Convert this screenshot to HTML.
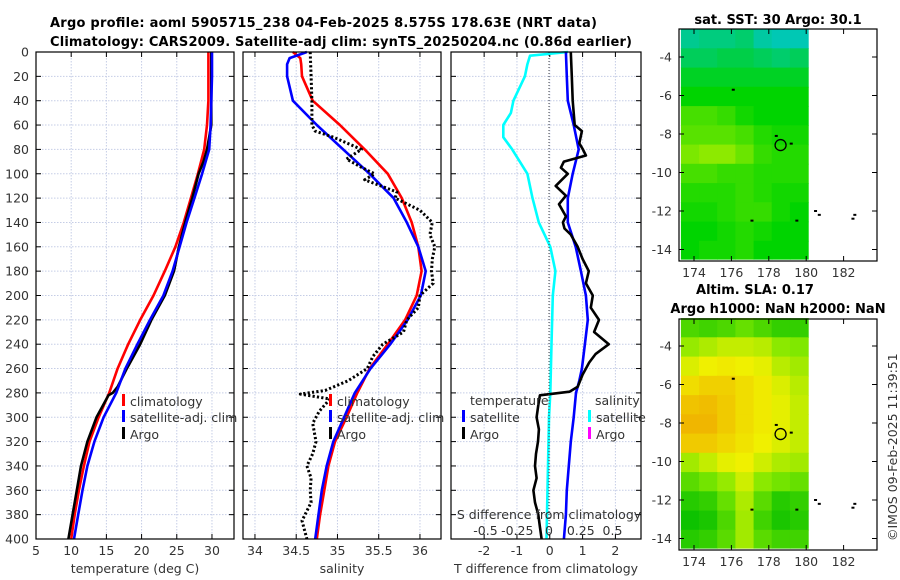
<!DOCTYPE html>
<html><head><meta charset="utf-8">
<style>
body{margin:0;background:#fff;}
svg{display:block;font-family:"DejaVu Sans","Liberation Sans",sans-serif;}
.tk{font-size:12.5px;fill:#333;}
.ttl{font-size:13px;font-weight:bold;fill:#000;}
</style></head>
<body>
<svg id="fig" width="900" height="580" viewBox="0 0 900 580" xmlns="http://www.w3.org/2000/svg">
<rect width="900" height="580" fill="#fff"/>
<text class="ttl" x="50" y="27" textLength="547">Argo profile: aoml 5905715_238 04-Feb-2025 8.575S 178.63E (NRT data)</text>
<text class="ttl" x="50" y="46" textLength="582">Climatology: CARS2009. Satellite-adj clim: synTS_20250204.nc (0.86d earlier)</text>
<g id="g"></g>
</svg>
<script>
// ---- data ----
const depthT = [0,20,40,60,80,100,120,140,160,180,200,220,240,260,280,300,320,340,360,380,400];
const tempClim = [29.5,29.5,29.5,29.3,28.9,28.0,27.0,26.0,24.8,23.3,21.7,19.8,18.1,16.6,15.4,13.9,12.6,11.8,11.1,10.5,10.0];
const tempSat  = [30.0,30.0,29.9,29.8,29.6,28.6,27.5,26.4,25.4,24.4,23.1,21.2,19.4,17.7,16.4,14.6,13.3,12.3,11.6,11.0,10.4];
const depthArgoT = [0,20,40,60,80,90,100,120,140,160,180,200,220,240,260,275,280,282,300,320,340,360,380,400];
const tempArgo = [29.9,29.9,29.9,29.9,29.3,28.8,28.1,27.2,26.2,25.3,24.6,23.3,21.4,19.8,17.9,16.6,15.9,15.3,13.6,12.3,11.4,10.8,10.2,9.6];
const depthS = [0,5,10,20,40,60,80,100,120,140,160,180,200,220,240,260,280,300,320,340,360,380,400];
const salClim = [34.46,34.55,34.56,34.57,34.70,35.03,35.33,35.61,35.78,35.90,35.98,36.02,35.96,35.82,35.61,35.39,35.24,35.11,34.97,34.89,34.84,34.79,34.75];
const salSat  = [34.63,34.42,34.39,34.39,34.46,34.75,35.07,35.39,35.68,35.84,35.98,36.07,36.01,35.85,35.64,35.40,35.21,35.08,34.95,34.87,34.81,34.77,34.73];
const depthArgoS = [0,20,40,60,65,70,80,88,95,100,105,115,120,130,140,150,160,170,180,190,200,210,220,230,240,250,260,270,278,281,285,295,305,320,330,340,350,360,370,385,400];
const salArgo = [34.67,34.68,34.69,34.69,34.73,34.95,35.29,35.11,35.3,35.45,35.33,35.72,35.70,36.0,36.15,36.12,36.18,36.15,36.14,36.16,36.0,35.98,35.84,35.80,35.55,35.43,35.36,35.13,34.85,34.55,34.91,34.78,34.70,34.74,34.70,34.63,34.68,34.67,34.68,34.57,34.63];
const depthDiff = [0,20,40,60,80,100,120,140,160,180,200,220,240,260,270,280,300,320,340,360,380,400];
const dTSat = [0.49,0.52,0.55,0.73,0.88,0.70,0.55,0.55,0.79,0.95,1.10,1.16,1.07,0.98,0.90,0.80,0.73,0.64,0.58,0.52,0.49,0.43];
const depthDS = [0,3,10,20,40,50,60,70,80,100,120,140,160,180,200,240,280,300,400];
const dSSat = [0.15,-0.15,-0.17,-0.19,-0.28,-0.30,-0.36,-0.36,-0.29,-0.17,-0.13,-0.08,0.01,0.05,0.03,0.02,0.01,0.0,-0.02];
const depthDTArgo = [0,20,40,60,65,75,80,85,90,95,100,110,118,125,135,140,145,150,160,170,180,190,200,210,220,230,240,248,255,265,275,279,282,290,300,310,320,330,340,350,360,370,380,390,400];
const dTArgo = [0.64,0.67,0.70,0.76,0.98,0.90,1.01,1.10,0.43,0.34,0.55,0.18,0.49,0.28,0.49,0.40,0.45,0.64,0.85,1.0,1.19,1.10,1.31,1.25,1.5,1.35,1.8,1.4,1.2,1.0,0.85,0.6,-0.3,-0.35,-0.4,-0.33,-0.36,-0.42,-0.45,-0.4,-0.5,-0.45,-0.35,-0.3,-0.25];
const depthTicks = [0,20,40,60,80,100,120,140,160,180,200,220,240,260,280,300,320,340,360,380,400];
const tTicks = [5,10,15,20,25,30];
const sTicks = [34,34.5,35,35.5,36];
const dtTicks = [-2,-1,0,1,2];
const dsTicks = [-0.5,-0.25,0,0.25,0.5];
const dsTickLabels = ["-0.5","-0.25","0","0.25","0.5"];
const lonTicks = [174,176,178,180,182];
const latTicks = [-4,-6,-8,-10,-12,-14];
const sstGrid = [
[0.2,0.3,0.3,0.4,0.1,0.0,0.0],
[0.5,0.5,0.6,0.6,0.5,0.4,0.5],
[0.8,0.8,0.8,0.8,0.8,0.8,0.8],
[1.0,1.0,1.0,1.0,1.0,1.0,1.0],
[1.4,1.4,1.3,1.1,1.0,1.0,1.0],
[1.5,1.5,1.5,1.4,1.2,1.1,1.1],
[1.7,1.8,1.8,1.6,1.3,1.2,1.2],
[1.4,1.4,1.3,1.3,1.2,1.2,1.2],
[1.2,1.2,1.2,1.3,1.2,1.1,1.1],
[1.1,1.1,1.2,1.3,1.3,1.1,1.0],
[1.0,1.0,1.1,1.2,1.1,1.0,1.0],
[1.0,1.1,1.1,1.2,1.0,1.0,1.0]];
const slaGrid = [
[0.6,0.5,0.6,0.8,0.6,0.4,0.4],
[1.2,1.4,1.6,1.6,1.5,1.1,1.0],
[1.8,2.0,2.1,2.0,1.9,1.5,1.3],
[2.3,2.5,2.5,2.3,2.1,1.8,1.5],
[2.7,2.8,2.6,2.3,2.1,1.9,1.6],
[2.9,2.9,2.6,2.3,2.1,1.9,1.6],
[2.6,2.6,2.4,2.2,2.0,1.8,1.6],
[1.3,1.6,1.9,2.0,1.7,1.4,1.3],
[0.7,0.9,1.2,1.7,1.1,0.9,0.8],
[0.3,0.4,0.8,1.4,0.7,0.3,0.4],
[0.1,0.2,0.6,1.3,0.5,0.2,0.3],
[0.3,0.4,0.7,1.3,0.7,0.5,0.5]];
const floatLon = 178.63, floatLat = -8.575;

// ---- drawing ----
const NS="http://www.w3.org/2000/svg";
const G=document.getElementById('g');
function mk(tag,attrs,parent){const e=document.createElementNS(NS,tag);for(const k in attrs)e.setAttribute(k,attrs[k]);(parent||G).appendChild(e);return e;}
const yD=d=>52+d*(539-52)/400;
function panel(name,x0,x1,vmin,vmax,ticks,labels,showDepth){
  const xs=v=>x0+(v-vmin)/(vmax-vmin)*(x1-x0);
  const g=mk('g',{});
  
  
  ticks.forEach(t=>{mk('line',{x1:xs(t),x2:xs(t),y1:52,y2:539,stroke:'#c5cde6','stroke-dasharray':'1.5,1.5','stroke-width':1},g);
    mk('line',{x1:xs(t),x2:xs(t),y1:539,y2:534,stroke:'#000'},g);mk('line',{x1:xs(t),x2:xs(t),y1:52,y2:57,stroke:'#000'},g);});
  depthTicks.forEach(d=>{mk('line',{x1:x0,x2:x1,y1:yD(d),y2:yD(d),stroke:'#c5cde6','stroke-dasharray':'1.5,1.5','stroke-width':1},g);
    mk('line',{x1:x0,x2:x0+5,y1:yD(d),y2:yD(d),stroke:'#000'},g);mk('line',{x1:x1-5,x2:x1,y1:yD(d),y2:yD(d),stroke:'#000'},g);
    if(showDepth){const t=mk('text',{x:29,y:yD(d)+4.5,'text-anchor':'end',class:'tk'},g);t.textContent=d;}});
  if(labels) ticks.forEach((t,i)=>{const e=mk('text',{x:xs(t),y:555,'text-anchor':'middle',class:'tk'},g);e.textContent=labels[i];});
  return {xs,g};
}
function line(p,xs,vals,depths,color,name,dash,w){
  const pts=vals.map((v,i)=>xs(v).toFixed(1)+','+yD(depths[i]).toFixed(1)).join(' ');
  const e=mk('polyline',{points:pts,fill:'none',stroke:color,'stroke-width':w||2.6,'stroke-linejoin':'round'},p.g);
  if(dash)e.setAttribute('stroke-dasharray',dash);
  
  
}
function frame(x0,x1){mk('rect',{x:x0,y:52,width:x1-x0,height:487,fill:'none',stroke:'#000','stroke-width':1.2});}
function txt(x,y,s,attrs,name){const e=mk('text',Object.assign({x,y},attrs||{}));e.textContent=s;
  
  return e;}
function legend(x,y,color,label,name){mk('rect',{x:x,y:y-7,width:3,height:12,fill:color});
  const t=mk('text',{x:x+8,y:y+5,class:'tk'});t.textContent=label;
  
  }

// Panel 1 temperature
const p1=panel('temperature-panel',36,234,5,33.13,tTicks,tTicks.map(String),true);
line(p1,p1.xs,tempClim,depthT,'#ff0000','temp-climatology-line');
line(p1,p1.xs,tempArgo,depthArgoT,'#000000','temp-argo-line');
line(p1,p1.xs,tempSat,depthT,'#0000ff','temp-satellite-line');
frame(36,234);
txt(135,573,'temperature (deg C)',{'text-anchor':'middle',class:'tk'},'temperature-x-label');
legend(122,401,'#ff0000','climatology','legend-climatology-t');
legend(122,417,'#0000ff','satellite-adj. clim','legend-satellite-t');
legend(122,434,'#000000','Argo','legend-argo-t');

// Panel 2 salinity
const p2=panel('salinity-panel',243,441,33.855,36.255,sTicks,sTicks.map(String),false);
line(p2,p2.xs,salClim,depthS,'#ff0000','sal-climatology-line');
line(p2,p2.xs,salSat,depthS,'#0000ff','sal-satellite-line');
line(p2,p2.xs,salArgo,depthArgoS,'#000000','sal-argo-line','2.2,2.2',3);
frame(243,441);
txt(342,573,'salinity',{'text-anchor':'middle',class:'tk'},'salinity-x-label');
legend(329,401,'#ff0000','climatology','legend-climatology-s');
legend(329,417,'#0000ff','satellite-adj. clim','legend-satellite-s');
legend(329,434,'#000000','Argo','legend-argo-s');

// Panel 3 differences
const p3=panel('difference-panel',451,641,-3.01,2.78,dtTicks,dtTicks.map(String),false);
const xsS=v=>549+v*127;
mk('line',{x1:549,x2:549,y1:52,y2:539,stroke:'#444','stroke-dasharray':'1,2','stroke-width':1});
line(p3,xsS,dSSat,depthDS,'#00ffff','ds-satellite-line');
line(p3,p3.xs,dTSat,depthDiff,'#0000ff','dt-satellite-line');
line(p3,p3.xs,dTArgo,depthDTArgo,'#000000','dt-argo-line');
frame(451,641);
dsTicks.forEach((t,i)=>txt(xsS(t),535,dsTickLabels[i],{'text-anchor':'middle',class:'tk'},'ds-tick-label'));
txt(549,519,'S difference from climatology',{'text-anchor':'middle',class:'tk'},'ds-axis-label');
txt(546,573,'T difference from climatology',{'text-anchor':'middle',class:'tk'},'dt-x-label');
txt(470,405,'temperature',{class:'tk'},'legend-temperature-header');
legend(462,417,'#0000ff','satellite','legend-dt-satellite');
legend(462,434,'#000000','Argo','legend-dt-argo');
txt(595,405,'salinity',{class:'tk'},'legend-salinity-header');
legend(588,417,'#00ffff','satellite','legend-ds-satellite');
legend(588,434,'#ff00ff','Argo','legend-ds-argo');

// Maps
function cmapSST(v){const a=[[0,200,180],[0,212,0],[176,240,0]];return interp(a,v/2);}
function cmapSLA(v){const a=[[0,190,0],[128,232,0],[240,240,0],[240,176,0]];return interp(a,v/3);}
function interp(a,f){f=Math.max(0,Math.min(1,f));const n=a.length-1,i=Math.min(n-1,Math.floor(f*n)),t=f*n-i;
  return 'rgb('+a[i].map((c,k)=>Math.round(c+(a[i+1][k]-c)*t)).join(',')+')';}
function map(name,top,bottom,lat4y,grid,cmap){
  const lonX=l=>694+(l-174)*18.7;
  const latY=l=>lat4y+(-4-l)*19.25;
  const g=mk('g',{});
  
  
  const lon0=173.3,dlon=(180.1-173.3)/7,lat0=-2.55;
  grid.forEach((row,r)=>row.forEach((v,c)=>{
    const x=lonX(lon0+c*dlon),y=latY(lat0-r),h=Math.min(latY(lat0-r-1),bottom-2)-y;
    const cell=mk('rect',{x:x.toFixed(1),y:y.toFixed(1),width:(dlon*18.7+0.6).toFixed(1),height:(h+0.6).toFixed(1),fill:cmap(v)},g);
    
    
  }));
  mk('rect',{x:679,y:top,width:198,height:bottom-top,fill:'none',stroke:'#000','stroke-width':1.2},g);
  latTicks.forEach(l=>{const y=latY(l);mk('line',{x1:679,x2:684,y1:y,y2:y,stroke:'#000'},g);mk('line',{x1:872,x2:877,y1:y,y2:y,stroke:'#000'},g);
    const t=mk('text',{x:672,y:y+4.5,'text-anchor':'end',class:'tk'},g);t.textContent=l;});
  lonTicks.forEach(l=>{const x=lonX(l);mk('line',{x1:x,x2:x,y1:bottom,y2:bottom-5,stroke:'#000'},g);mk('line',{x1:x,x2:x,y1:top,y2:top+5,stroke:'#000'},g);
    const t=mk('text',{x:x,y:bottom+16,'text-anchor':'middle',class:'tk'},g);t.textContent=l;});
  [[180.5,-12.0],[180.7,-12.2],[182.5,-12.4],[182.6,-12.2],[177.1,-12.5],[179.5,-12.5],[176.1,-5.7],[178.4,-8.1],[179.2,-8.5]].forEach(p=>
    mk('rect',{x:lonX(p[0])-1.5,y:latY(p[1])-1,width:3,height:2,fill:'#000'},g));
  const c=mk('circle',{cx:lonX(floatLon),cy:latY(floatLat),r:5.5,fill:'none',stroke:'#000','stroke-width':1.3},g);
  
  
}
map('sst-map',29,261,57,sstGrid,cmapSST);
txt(778,24,'sat. SST: 30 Argo: 30.1',{'text-anchor':'middle',class:'ttl'},'sst-map-title');
map('sla-map',319,550,346,slaGrid,cmapSLA);
txt(755,294,'Altim. SLA: 0.17',{'text-anchor':'middle',class:'ttl'},'sla-map-title');
txt(778,313,'Argo h1000: NaN h2000: NaN',{'text-anchor':'middle',class:'ttl'},'sla-map-subtitle');
txt(0,0,'©IMOS 09-Feb-2025 11:39:51',{class:'tk',transform:'translate(897,541) rotate(-90)'},'copyright-timestamp');
</script>
</body></html>
